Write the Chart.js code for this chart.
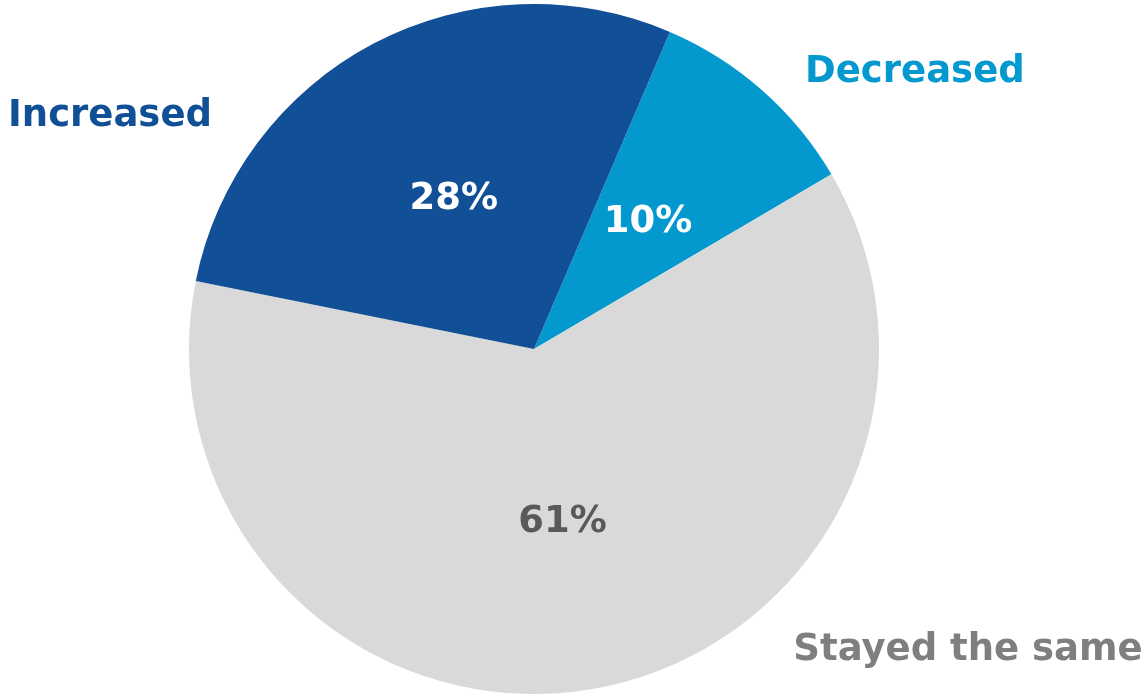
<!DOCTYPE html>
<html>
<head>
<meta charset="utf-8">
<script src="https://cdn.jsdelivr.net/npm/chart.js@4"></script>
<style>
  html, body { margin: 0; padding: 0; background: #fff; }
  #wrap { width: 1145px; height: 694px; position: relative; }
</style>
</head>
<body>
<div id="wrap"><canvas id="pie"></canvas></div>
<script>
/* ── Data ── */
const categories  = ['Decreased', 'Stayed the same', 'Increased'];
const shares      = [10, 61, 28];
const sliceColors = ['#0399CF', '#D9D9D9', '#114F96'];
const pctColors   = ['#FFFFFF', '#595959', '#FFFFFF'];
const nameColors  = ['#0399CF', '#7F7F7F', '#114F96'];
// category label anchor, as multiples of the radius from the pie centre
const nameOffsets = [[1.104, -0.809], [1.258, 0.867], [-1.229, -0.681]];

const FONT = 'bold 37px "DejaVu Sans", sans-serif';

/* ── Label plugin ── */
const pieLabels = {
  id: 'pieLabels',
  afterDatasetsDraw(chart) {
    const c = chart.ctx;
    const arcs = chart.getDatasetMeta(0).data;
    c.save();
    c.font = FONT;
    c.textAlign = 'center';
    c.textBaseline = 'middle';
    arcs.forEach((arc, i) => {
      const p = arc.tooltipPosition();
      c.fillStyle = pctColors[i];
      c.fillText(shares[i] + '%', p.x, p.y + 3);
      const r = arc.outerRadius;
      c.fillStyle = nameColors[i];
      c.fillText(categories[i], arc.x + nameOffsets[i][0] * r, arc.y + nameOffsets[i][1] * r + 2);
    });
    c.restore();
  }
};

new Chart(document.getElementById('pie'), {
  type: 'pie',
  data: {
    labels: categories,
    datasets: [{ data: shares, backgroundColor: sliceColors, borderWidth: 0 }]
  },
  options: {
    responsive: true, maintainAspectRatio: false, animation: false,
    rotation: 23.2,
    layout: { padding: { left: 189, right: 266, top: 4, bottom: 0 } },
    plugins: { legend: { display: false }, tooltip: { enabled: false } }
  },
  plugins: [pieLabels]
});
</script>
</body>
</html>
